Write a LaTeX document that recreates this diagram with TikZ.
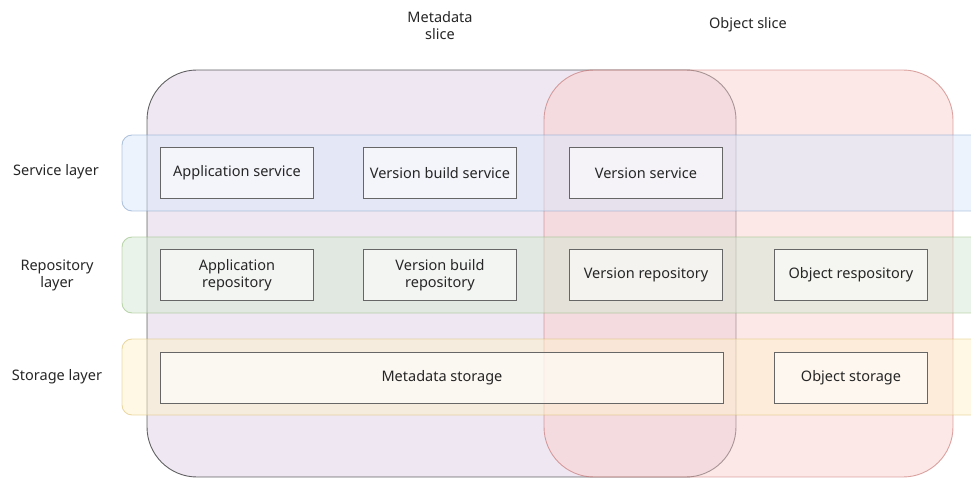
\documentclass[tikz,border=0pt]{standalone}
\usepackage{fontspec}
\setmainfont{Noto Sans}
\definecolor{mfill}{HTML}{E1D5E7}
\definecolor{ofill}{HTML}{F8CECC}
\definecolor{odraw}{HTML}{B85450}
\definecolor{sfill}{HTML}{DAE8FC}
\definecolor{sdraw}{HTML}{6C8EBF}
\definecolor{rfill}{HTML}{D5E8D4}
\definecolor{rdraw}{HTML}{82B366}
\definecolor{tfill}{HTML}{FFF2CC}
\definecolor{tdraw}{HTML}{D6B656}
\tikzset{
  x=1pt, y=-1pt,
  lbl/.style={font=\fontsize{14.5}{17}\selectfont, text=black!85, align=center, inner sep=0pt},
  slice/.style={rounded corners=50pt, line width=0.9pt},
  band/.style={rounded corners=10pt, line width=0.9pt, fill opacity=0.5, draw opacity=0.5},
  comp/.style={draw=black!60, line width=0.9pt, fill=white, fill opacity=0.6, text opacity=1,
    minimum width=153pt, minimum height=51pt, inner sep=0pt, anchor=north west,
    font=\fontsize{14.5}{17}\selectfont, text=black!85, align=center},
}
\begin{document}
\begin{tikzpicture}
\useasboundingbox (0,0) rectangle (971,478);
\clip (0,0) rectangle (971,478);
% slices
\path[slice, fill=mfill, fill opacity=0.55, draw=black, draw opacity=0.6] (147,70) rectangle (736,477);
\path[slice, fill=ofill, fill opacity=0.48, draw=odraw, draw opacity=0.5] (544,70) rectangle (953,477);
% bands
\path[band, fill=sfill, draw=sdraw] (122,135) rectangle (990,211);
\path[band, fill=rfill, draw=rdraw] (122,237) rectangle (990,313);
\path[band, fill=tfill, draw=tdraw] (122,339) rectangle (990,415);
% labels
\node[lbl] (ms) at (440,26) {Metadata\\slice};
\node[lbl] (os) at (748,25) {Object slice};
\node[lbl] (sl) at (56,172) {Service layer};
\node[lbl] (rl) at (57,275) {Repository\\layer};
\node[lbl] (tl) at (57,377) {Storage layer};
% components
\node[comp] (as) at (160,147) {Application service};
\node[comp] (vbs) at (363,147) {Version build service};
\node[comp] (vs) at (569,147) {Version service};
\node[comp] (ar) at (160,249) {Application\\repository};
\node[comp] (vbr) at (363,249) {Version build\\repository};
\node[comp] (vr) at (569,249) {Version repository};
\node[comp] (or) at (774,249) {Object respository};
\node[comp, minimum width=563pt] (mst) at (160,352) {Metadata storage};
\node[comp] (ost) at (774,352) {Object storage};
\end{tikzpicture}
\end{document}
